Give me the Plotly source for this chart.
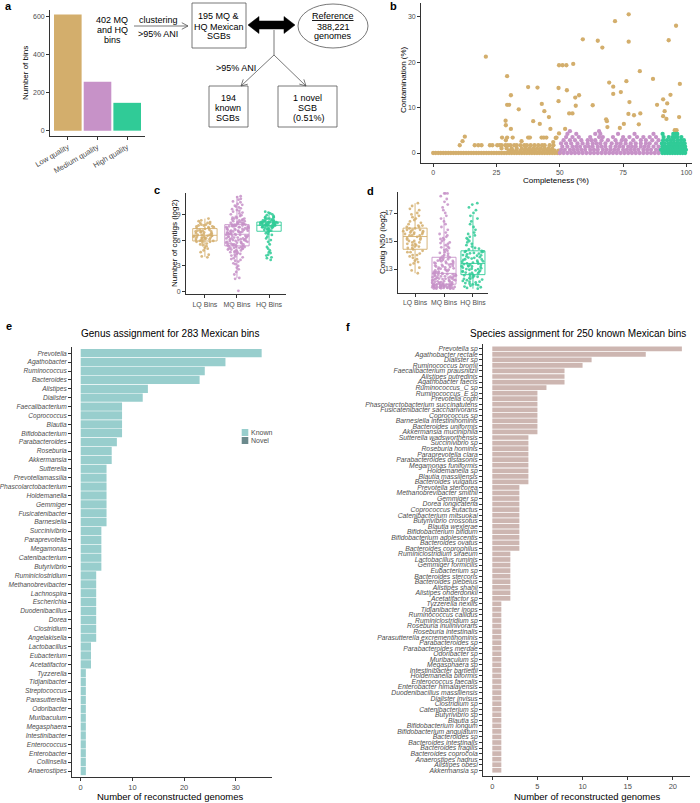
import math
import plotly.graph_objects as go

W, H = 700, 803
FONT = "Liberation Sans, Arial, Helvetica, sans-serif"
TAN = "#D3AE6C"; PURPLE = "#C792C8"; GREEN = "#30CB97"
KNOWN = "#98CECD"; NOVEL = "#6B8A8D"; SPEC = "#CDB6B1"
AXC = "#333333"; TXT = "#4D4D4D"; GREY = "#555555"

# ---------------- DATA ----------------
# a: quality of bins
quality_labels = ["Low quality", "Medium quality", "High quality"]
quality_counts = [609, 256, 146]

# b: completeness vs contamination (completeness, contamination)
lq_high_points = [
    (20.8, 21.2), (29.2, 16.9), (30.7, 12.7), (29.2, 10.6), (30.0, 10.6), (33.8, 9.6),
    (28.6, 7.1), (28.7, 6.1), (30.7, 5.3), (37.5, 14.5), (41.2, 14.4), (42.9, 10.8),
    (43.9, 9.2), (45.7, 7.9), (39.5, 7.0), (42.1, 6.4), (46.3, 5.3), (49.7, 19.3),
    (51.1, 19.3), (52.6, 19.3), (55.3, 19.6), (49.5, 14.3), (52.8, 13.8), (49.5, 11.4),
    (56.1, 12.2), (57.6, 12.7), (56.3, 10.4), (53.7, 8.7), (55.0, 8.7), (59.1, 25.0),
    (65.0, 24.7), (66.8, 23.2), (71.8, 29.0), (77.2, 30.5), (77.2, 24.5), (95.9, 28.0),
    (93.0, 24.8), (81.6, 18.0), (86.8, 16.3), (69.5, 15.5), (71.1, 14.6), (76.3, 15.8),
    (71.1, 13.0), (74.1, 13.4), (63.0, 10.5), (77.5, 11.2), (88.4, 10.6), (90.8, 11.8),
    (92.4, 10.9), (93.7, 12.8), (97.4, 15.2), (68.3, 7.4), (68.6, 7.0), (68.8, 5.7),
    (77.1, 8.6), (79.3, 8.3), (81.8, 8.7), (81.2, 6.3), (75.3, 6.4), (73.7, 5.5),
    (90.8, 8.1), (92.1, 7.5), (97.1, 7.9), (91.4, 9.2), (95.4, 5.0), (96.1, 5.0),
    (52.1, 5.3), (49.7, 4.3),
]
lq_low_points = [
    (10.5, 1.7), (11.6, 2.6), (12.5, 3.6), (16.4, 1.7), (17.8, 1.7), (19.1, 1.7),
    (22.4, 1.7), (23.4, 1.7), (25.3, 1.7), (26.3, 1.7), (27.0, 1.7), (27.2, 3.4),
    (29.2, 3.4), (31.4, 3.4), (37.5, 3.4), (38.2, 3.4), (42.8, 3.4), (43.7, 3.4),
    (44.7, 3.4), (48.7, 3.4), (28.7, 2.8), (34.9, 2.6), (47.4, 2.4), (48.4, 3.3),
]
lq_rows = {
    0.0: [0, 1, 2, 3, 4, 5, 6, 7, 8, 9, 10, 11, 12, 13, 14, 15, 16, 17, 18, 19, 20, 21,
          22, 23, 24, 25, 26, 27, 28, 29, 30, 31, 32, 33, 34, 35, 36, 37, 38, 39, 40, 41,
          42, 43, 44, 45, 46, 47, 48, 49, 50],
    0.5: [30, 31.5, 33, 34.5, 36, 37.5, 39, 40.5, 42, 43.5, 45, 46.5, 48, 49.5],
    1.0: [27, 29, 31, 33, 35, 36.5, 38, 39.5, 41, 42.5, 44, 45.5, 47],
    1.7: [28.5, 29.5, 30.5, 32, 33, 34.5, 36, 37, 38.5, 40, 41.5, 43, 44, 46, 47.5],
}
mq_rows = {
    0.0: [50, 51.5, 53, 54.5, 56, 57.5, 59, 60.5, 62, 63.5, 65, 66.5, 68, 69.5, 71, 72.5,
          74, 75.5, 77, 78.5, 80, 81.5, 83, 84.5, 86, 87.5, 89],
    0.7: [50.5, 52, 54, 55.5, 57, 58.5, 60, 62, 63.5, 65, 67, 68.5, 70, 71.5, 73, 75, 76.5,
          78, 79.5, 81, 83, 84.5, 86, 88, 89.5],
    1.4: [51, 53, 55, 56.5, 58, 60, 61.5, 63, 65, 66.5, 68, 70, 72, 73.5, 75, 77, 78.5, 80,
          82, 83.5, 85, 87, 89],
    2.1: [50.5, 52.5, 54.5, 57, 59, 61, 63, 64.5, 66, 68, 70.5, 72.5, 74, 76, 78, 80, 82,
          84, 85.5, 88],
    2.8: [51.5, 54, 56, 58.5, 61, 62.5, 64, 66.5, 69, 72, 74.5, 76, 79, 82, 84, 86.5, 89],
    3.5: [52.5, 55, 57.5, 62, 65.5, 67, 71, 75, 77.5, 80.5, 83, 85.5, 88],
    4.2: [53, 56.5, 64, 66, 73, 79.5, 87],
    4.8: [54, 65.5],
}
hq_rows = {
    0.0: [90.5, 91.5, 92.5, 93.5, 94.5, 95.5, 96.5, 97.5, 98.5, 99.5],
    0.7: [90, 91, 92, 93, 94, 95, 96, 97, 98, 99, 99.8],
    1.4: [90.5, 91.5, 92.5, 93.5, 94.5, 95.5, 96.5, 97.5, 98.5, 99.5],
    2.1: [90.3, 91.5, 93, 94, 95.2, 96, 97, 98.2, 99.3],
    2.8: [90.8, 92.3, 93.8, 95, 96.5, 97.8, 99],
    3.5: [91, 93, 94.5, 95.5, 96.5, 98],
    4.2: [90.6, 94.8, 95.8, 96.4],
}

# c/d: box groups
bin_groups = ["LQ Bins", "MQ Bins", "HQ Bins"]
contigs_q1 = [5.9, 5.33, 7.03]
contigs_med = [6.56, 6.68, 7.72]
contigs_q3 = [7.34, 7.8, 8.1]
contigs_lo = [4.05, 1.6, 5.45]
contigs_hi = [8.5, 11.1, 9.27]
contigs_lq = [4.0, 4.1, 4.3, 4.6, 4.8, 5.0, 5.1, 5.3, 5.4, 5.5, 5.6, 5.7, 5.8, 5.8, 5.9, 5.9, 5.9,
              6.0, 6.0, 6.1, 6.1, 6.2, 6.2, 6.2, 6.3, 6.3, 6.3, 6.4, 6.4, 6.4, 6.5, 6.5, 6.5, 6.5,
              6.6, 6.6, 6.6, 6.7, 6.7, 6.8, 6.8, 6.9, 6.9, 7.0, 7.0, 7.0, 7.1, 7.1, 7.2, 7.2, 7.3,
              7.4, 7.4, 7.5, 7.5, 7.6, 7.6, 7.7, 7.7, 7.8, 7.8, 7.9, 8.0, 8.0, 8.1, 8.2, 8.3, 8.5]
contigs_mq = [1.5, 1.6, 2.0, 2.3, 2.6, 2.8, 3.0, 3.2, 3.3, 3.5, 3.6, 3.7, 3.8, 3.9, 4.0, 4.1, 4.2,
              4.3, 4.4, 4.4, 4.5, 4.6, 4.6, 4.7, 4.7, 4.8, 4.8, 4.9, 4.9, 5.0, 5.0, 5.0, 5.1, 5.1,
              5.1, 5.2, 5.2, 5.2, 5.3, 5.3,
              5.4, 5.4, 5.4, 5.5, 5.5, 5.5, 5.6, 5.6, 5.6, 5.7, 5.7, 5.7, 5.8, 5.8, 5.8, 5.9, 5.9,
              5.9, 6.0, 6.0, 6.0, 6.1, 6.1, 6.1, 6.2, 6.2, 6.2, 6.3, 6.3, 6.3, 6.4, 6.4, 6.4, 6.5,
              6.5, 6.5, 6.6, 6.6, 6.6, 6.7,
              6.7, 6.7, 6.8, 6.8, 6.8, 6.9, 6.9, 6.9, 7.0, 7.0, 7.0, 7.0, 7.1, 7.1, 7.1, 7.2, 7.2,
              7.2, 7.3, 7.3, 7.3, 7.3, 7.4, 7.4, 7.4, 7.5, 7.5, 7.5, 7.5, 7.6, 7.6, 7.6, 7.6, 7.7,
              7.7, 7.7, 7.7, 7.8, 7.8, 7.8,
              7.9, 7.9, 7.9, 8.0, 8.0, 8.0, 8.1, 8.1, 8.2, 8.2, 8.3, 8.3, 8.4, 8.4, 8.5, 8.5, 8.6,
              8.6, 8.7, 8.8, 8.9, 9.0, 9.1, 9.2, 9.3, 9.4, 9.5, 9.6, 9.7, 9.8, 9.9, 10.0, 10.1,
              10.2, 10.4, 10.5, 10.7, 10.8, 11.0, 11.1, 0.1]
contigs_hq = [3.7, 3.9, 4.0, 4.2, 4.3, 4.5, 4.6, 4.8, 5.0, 5.2, 5.5, 5.8, 6.0, 6.2, 6.4, 6.6, 6.7,
              6.8, 6.9, 7.0,
              7.1, 7.1, 7.2, 7.2, 7.3, 7.3, 7.4, 7.4, 7.4, 7.5, 7.5, 7.5, 7.6, 7.6, 7.6, 7.7, 7.7,
              7.7, 7.7, 7.7,
              7.8, 7.8, 7.8, 7.8, 7.9, 7.9, 7.9, 7.9, 7.9, 8.0, 8.0, 8.0, 8.0, 8.0, 8.0, 8.1, 8.1,
              8.1, 8.1, 8.1,
              8.2, 8.2, 8.2, 8.3, 8.3, 8.3, 8.4, 8.4, 8.5, 8.5, 8.6, 8.6, 8.7, 8.7, 8.8, 8.9, 9.0,
              9.1, 9.2, 9.3]

n50_q1 = [14.41, 11.92, 12.6]
n50_med = [15.32, 12.69, 13.4]
n50_q3 = [15.92, 13.84, 14.3]
n50_lo = [12.7, 11.6, 11.6]
n50_hi = [17.7, 16.7, 16.85]
n50_lq = [12.7, 12.9, 13.1, 13.3, 13.4, 13.5, 13.6, 13.7, 13.8, 13.9, 14.0, 14.0, 14.1, 14.2, 14.2,
          14.3, 14.4, 14.5, 14.5, 14.6, 14.6, 14.7, 14.7, 14.8, 14.8, 14.9, 14.9, 15.0, 15.0, 15.1,
          15.1, 15.2, 15.2, 15.3, 15.4, 15.4, 15.4, 15.5, 15.5, 15.5, 15.6, 15.6, 15.6, 15.7, 15.7,
          15.7, 15.8, 15.8, 15.8, 15.9, 15.9, 16.0, 16.0, 16.1, 16.1, 16.2, 16.3, 16.4, 16.5, 16.6,
          16.7, 16.8, 16.9, 17.0, 17.2, 17.3, 17.5, 17.7]
n50_mq = [11.6, 11.6, 11.62, 11.65, 11.68, 11.7, 11.7, 11.72, 11.75, 11.78, 11.8, 11.8, 11.82,
          11.85, 11.88, 11.9, 11.9, 11.92, 11.6, 11.65, 11.7, 11.75, 11.8, 11.85, 11.9, 11.63,
          11.67, 11.73, 11.77, 11.83, 11.87, 11.91, 11.61, 11.69, 11.74, 11.79, 11.84, 11.89,
          11.66, 11.76,
          11.95, 12.0, 12.02, 12.05, 12.08, 12.1, 12.12, 12.15, 12.18, 12.2, 12.22, 12.25, 12.28,
          12.3, 12.32, 12.35, 12.38, 12.4, 12.42, 12.45, 12.48, 12.5, 12.52, 12.55, 12.58, 12.6,
          12.62, 12.65, 12.68, 11.98, 12.03, 12.13, 12.23, 12.33, 12.43, 12.53, 12.63, 12.07,
          12.27, 12.47,
          12.7, 12.75, 12.8, 12.85, 12.9, 12.95, 13.0, 13.05, 13.1, 13.15, 13.2, 13.25, 13.3,
          13.35, 13.4, 13.45, 13.5, 13.55, 13.6, 13.65, 13.7, 13.75, 13.8, 13.83, 12.72, 12.82,
          12.92, 13.02, 13.12, 13.22, 13.32, 13.42, 13.52, 13.62, 13.72, 12.78, 12.98, 13.18,
          13.38, 13.58,
          13.9, 14.0, 14.1, 14.2, 14.3, 14.4, 14.5, 14.6, 14.7, 14.8, 14.9, 15.0, 15.1, 15.2,
          15.3, 15.4, 15.5, 15.6, 15.8, 16.0, 16.2, 16.4, 16.6, 16.8, 17.0, 17.2, 17.4, 17.6,
          17.8, 18.0, 18.2, 18.4, 18.4, 18.4, 13.95, 14.15, 14.35, 14.55, 14.85, 15.15]
n50_hq = [11.6, 11.7, 11.75, 11.8, 11.85, 11.9, 11.95, 12.0, 12.05, 12.1, 12.15, 12.2, 12.25,
          12.3, 12.35, 12.4, 12.45, 12.5, 12.55, 12.6, 11.65, 11.9, 12.1, 12.3, 12.5,
          12.65, 12.7, 12.75, 12.8, 12.85, 12.9, 12.95, 13.0, 13.05, 13.1, 13.15, 13.2, 13.25,
          13.3, 13.35, 13.4, 12.72, 12.88, 13.02, 13.18, 13.32, 12.8, 13.0, 13.2, 13.38,
          13.45, 13.5, 13.55, 13.6, 13.65, 13.7, 13.75, 13.8, 13.85, 13.9, 13.95, 14.0, 14.05,
          14.1, 14.15, 14.2, 14.25, 14.3, 13.52, 13.68, 13.82, 13.98, 14.12, 14.22, 14.28,
          14.4, 14.5, 14.6, 14.7, 14.8, 14.9, 15.0, 15.1, 15.2, 15.3, 15.4, 15.5, 15.6, 15.8,
          16.0, 16.2, 16.4, 16.6, 16.8, 17.0, 17.2, 17.4, 17.6, 17.7, 14.45]

# e: genus assignment
genus_names = ["Prevotella", "Agathobacter", "Ruminococcus", "Bacteroides", "Alistipes",
               "Dialister", "Faecalibacterium", "Coprococcus", "Blautia", "Bifidobacterium",
               "Parabacteroides", "Roseburia", "Akkermansia", "Sutterella", "Prevotellamassilia",
               "Phascolarctobacterium", "Holdemanella", "Gemmiger", "Fusicatenibacter",
               "Barnesiella", "Succinivibrio", "Paraprevotella", "Megamonas", "Catenibacterium",
               "Butyrivibrio", "Ruminiclostridium", "Methanobrevibacter", "Lachnospira",
               "Escherichia", "Duodenibacillus", "Dorea", "Clostridium", "Angelakisella",
               "Lactobacillus", "Eubacterium", "Acetatifactor", "Tyzzerella", "Tidjanibacter",
               "Streptococcus", "Parasutterella", "Odoribacter", "Muribaculum", "Megasphaera",
               "Intestinibacter", "Enterococcus", "Enterobacter", "Collinsella", "Anaerostipes"]
genus_counts = [35, 28, 24, 23, 13, 12, 8, 8, 8, 8, 7, 6, 6, 5, 5, 5, 5, 5, 5, 5, 4, 4, 4, 4, 4,
                3, 3, 3, 3, 3, 3, 3, 3, 2, 2, 2, 1, 1, 1, 1, 1, 1, 1, 1, 1, 1, 1, 1]
genus_legend = ["Known", "Novel"]

# f: species assignment
species_names = ["Prevotella sp", "Agathobacter rectale", "Dialister sp", "Ruminococcus bromii",
                 "Faecalibacterium prausnitzii", "Alistipes putredinis", "Agathobacter faecis",
                 "Ruminococcus_C sp", "Ruminococcus_E sp", "Prevotella copri",
                 "Phascolarctobacterium succinatutens", "Fusicatenibacter saccharivorans",
                 "Coprococcus sp", "Barnesiella intestinihominis", "Bacteroides uniformis",
                 "Akkermansia muciniphila", "Sutterella wadsworthensis", "Succinivibrio sp",
                 "Roseburia hominis", "Paraprevotella clara", "Parabacteroides distasonis",
                 "Megamonas funiformis", "Holdemanella sp", "Blautia massiliensis",
                 "Bacteroides vulgatus", "Prevotella stercorea", "Methanobrevibacter smithii",
                 "Gemmiger sp", "Dorea longicatena", "Coprococcus eutactus",
                 "Catenibacterium mitsuokai", "Butyrivibrio crossotus", "Blautia wexlerae",
                 "Bifidobacterium bifidum", "Bifidobacterium adolescentis", "Bacteroides ovatus",
                 "Bacteroides coprophilus", "Ruminiclostridium siraeum", "Lactobacillus ruminis",
                 "Gemmiger formicilis", "Eubacterium sp", "Bacteroides stercoris",
                 "Bacteroides plebeius", "Alistipes shahii", "Alistipes onderdonkii",
                 "Acetatifactor sp", "Tyzzerella nexilis", "Tidjanibacter inops",
                 "Ruminococcus callidus", "Ruminiclostridium sp", "Roseburia inulinivorans",
                 "Roseburia intestinalis", "Parasutterella excrementihominis", "Parabacteroides sp",
                 "Parabacteroides merdae", "Odoribacter sp", "Muribaculum sp", "Megasphaera sp",
                 "Intestinibacter bartlettii", "Holdemanella biformis", "Enterococcus faecalis",
                 "Enterobacter himalayensis", "Duodenibacillus massiliensis", "Dialister invisus",
                 "Clostridium sp", "Catenibacterium sp", "Butyrivibrio sp", "Blautia sp",
                 "Bifidobacterium longum", "Bifidobacterium angulatum", "Bacteroides sp",
                 "Bacteroides intestinalis", "Bacteroides fragilis", "Bacteroides coprocola",
                 "Anaerostipes hadrus", "Alistipes obesi", "Akkermansia sp"]
species_counts = [21, 17, 11, 10, 8, 8, 8, 6, 5, 5, 5, 5, 5, 5, 5, 5, 4, 4, 4, 4, 4, 4, 4, 4, 4,
                  3, 3, 3, 3, 3, 3, 3, 3, 3, 3, 3, 3, 2, 2, 2, 2, 2, 2, 2, 2, 2,
                  1, 1, 1, 1, 1, 1, 1, 1, 1, 1, 1, 1, 1, 1, 1, 1, 1, 1, 1, 1, 1, 1, 1, 1, 1,
                  1, 1, 1, 1, 1, 1]


# ---------------- helpers ----------------
def px(x):
    return x / W


def py(y):
    return 1 - y / H


def flat(rows):
    xs, ys = [], []
    for cont, comps in rows.items():
        for c in comps:
            xs.append(c)
            ys.append(cont)
    return xs, ys


def txt(x, y, s, size=9, color="black", angle=0, xanchor="center", yanchor="middle", bold=False):
    if bold:
        s = "<b>" + s + "</b>"
    return dict(x=px(x), y=py(y), xref="paper", yref="paper", text=s, showarrow=False,
                font=dict(size=size, color=color, family=FONT), textangle=angle,
                xanchor=xanchor, yanchor=yanchor, borderpad=0)


def seg(x0, y0, x1, y1, color=GREY, w=0.8):
    return dict(type="line", xref="paper", yref="paper", x0=px(x0), y0=py(y0), x1=px(x1),
                y1=py(y1), line=dict(color=color, width=w))


def arrow(x0, y0, x1, y1, L=7, a=28):
    out = [seg(x0, y0, x1, y1)]
    ang = math.atan2(y1 - y0, x1 - x0)
    for s in (1, -1):
        t = ang + math.pi + s * math.radians(a)
        out.append(seg(x1, y1, x1 + L * math.cos(t), y1 + L * math.sin(t)))
    return out


def rect(x0, y0, x1, y1, color=GREY, fill="rgba(0,0,0,0)", w=0.8):
    return dict(type="rect", xref="paper", yref="paper", x0=px(x0), y0=py(y1), x1=px(x1),
                y1=py(y0), line=dict(color=color, width=w), fillcolor=fill)


# ---------------- figure ----------------
fig = go.Figure()

# a
fig.add_trace(go.Bar(x=quality_labels, y=quality_counts, width=0.93,
                     marker=dict(color=[TAN, PURPLE, GREEN], line=dict(width=0)),
                     xaxis="x", yaxis="y", showlegend=False))

# b
lx, ly = flat(lq_rows)
lx += [p[0] for p in lq_low_points + lq_high_points]
ly += [p[1] for p in lq_low_points + lq_high_points]
mx, my = flat(mq_rows)
hx, hy = flat(hq_rows)
for xs, ys, col in [(lx, ly, TAN), (mx, my, PURPLE), (hx, hy, GREEN)]:
    fig.add_trace(go.Scatter(x=xs, y=ys, mode="markers", marker=dict(color=col, size=4.3),
                             xaxis="x2", yaxis="y2", showlegend=False))

# c, d
cols = [TAN, PURPLE, GREEN]
for axn, q1, med, q3, lo, hi, vals, bw in [
    ("3", contigs_q1, contigs_med, contigs_q3, contigs_lo, contigs_hi,
     [contigs_lq, contigs_mq, contigs_hq], 0.76),
    ("4", n50_q1, n50_med, n50_q3, n50_lo, n50_hi, [n50_lq, n50_mq, n50_hq], 0.83),
]:
    for i, g in enumerate(bin_groups):
        fig.add_trace(go.Box(x=[g], q1=[q1[i]], median=[med[i]], q3=[q3[i]],
                             lowerfence=[lo[i]], upperfence=[hi[i]], boxpoints=False,
                             width=bw, whiskerwidth=0, line=dict(color=cols[i], width=0.9),
                             fillcolor="rgba(255,255,255,0)", xaxis="x" + axn, yaxis="y" + axn,
                             showlegend=False))
        fig.add_trace(go.Box(x=[g] * len(vals[i]), y=vals[i], boxpoints="all", jitter=1,
                             pointpos=0, width=bw, line=dict(color="rgba(0,0,0,0)", width=0),
                             fillcolor="rgba(0,0,0,0)",
                             marker=dict(color=cols[i], size=2.8, opacity=0.85),
                             xaxis="x" + axn, yaxis="y" + axn, showlegend=False))

# e
fig.add_trace(go.Bar(x=genus_counts, y=genus_names, orientation="h", width=0.93,
                     marker=dict(color=KNOWN, line=dict(width=0)), xaxis="x5", yaxis="y5",
                     showlegend=False))
# f
fig.add_trace(go.Bar(x=species_counts, y=species_names, orientation="h", width=0.85,
                     marker=dict(color=SPEC, line=dict(width=0)), xaxis="x6", yaxis="y6",
                     showlegend=False))

ax = dict(showline=True, linecolor=AXC, linewidth=0.8, ticks="outside", ticklen=3, tickwidth=0.8,
          tickcolor=AXC, showgrid=False, zeroline=False, tickfont=dict(size=7, color=TXT),
          fixedrange=True)


def A(**kw):
    d = dict(ax)
    d.update(kw)
    return d


fig.update_layout(
    template="none",
    width=W, height=H, margin=dict(l=0, r=0, t=0, b=0, pad=0), autosize=False,
    paper_bgcolor="white", plot_bgcolor="white",
    font=dict(family=FONT, size=7, color=TXT),
    showlegend=False, boxmode="overlay",
    xaxis=A(domain=[px(50), px(145)], range=[-0.6, 2.6], anchor="y", tickangle=-30,
            tickfont=dict(size=7.5, color=TXT)),
    yaxis=A(domain=[py(136), py(10)], range=[-28, 633], anchor="x", tickvals=[0, 200, 400, 600],
            tickfont=dict(size=7, color=TXT)),
    xaxis2=A(domain=[px(421), px(692)], range=[-4.8, 102.2], anchor="y2",
             tickvals=[0, 25, 50, 75, 100]),
    yaxis2=A(domain=[py(163), py(3)], range=[-2.2, 33], anchor="x2", tickvals=[0, 10, 20, 30]),
    xaxis3=A(domain=[px(186), px(286)], range=[-0.59, 2.53], anchor="y3", type="category",
             categoryorder="array", categoryarray=bin_groups, tickangle=0,
             tickmode="array", tickvals=bin_groups, ticktext=bin_groups),
    yaxis3=A(domain=[py(294.3), py(192.8)], range=[-0.3, 11.5], anchor="x3", tickvals=[0, 3, 6, 9]),
    xaxis4=A(domain=[px(398), px(488)], range=[-0.59, 2.52], anchor="y4", type="category",
             categoryorder="array", categoryarray=bin_groups, tickangle=0,
             tickmode="array", tickvals=bin_groups, ticktext=bin_groups,
             tickfont=dict(size=6.8, color=TXT)),
    yaxis4=A(domain=[py(292.7), py(192)], range=[11.31, 18.5], anchor="x4",
             tickvals=[13, 15, 17]),
    xaxis5=A(domain=[px(72), px(272)], range=[-1.68, 37.0], anchor="y5", tickvals=[0, 10, 20, 30],
             tickfont=dict(size=7.5, color=TXT)),
    yaxis5=A(domain=[py(777), py(347)], range=[47.67, -0.70], anchor="x5", type="category",
             categoryorder="array", categoryarray=genus_names,
             tickmode="array", tickvals=genus_names, ticktext=genus_names,
             tickfont=dict(size=6.6, color=TXT, style="italic")),
    xaxis6=A(domain=[px(483), px(690)], range=[-1.03, 21.9], anchor="y6",
             tickvals=[0, 5, 10, 15, 20], tickfont=dict(size=7.5, color=TXT)),
    yaxis6=A(domain=[py(776), py(344)], range=[77.04, -0.86], anchor="x6", type="category",
             categoryorder="array", categoryarray=species_names,
             tickmode="array", tickvals=species_names, ticktext=species_names,
             tickfont=dict(size=6.8, color=TXT, style="italic")),
)

ann = []
# panel letters
for x, y, s in [(8, 6, "a"), (393, 6, "b"), (157, 190, "c"), (370, 191, "d"), (9, 326, "e"),
                (348, 327, "f")]:
    ann.append(txt(x, y, s, size=11, bold=True))
# axis titles
ann.append(txt(25, 73, "Number of bins", size=8, color="black", angle=-90))
ann.append(txt(404, 80, "Contamination (%)", size=8, color="black", angle=-90))
ann.append(txt(556, 180, "Completeness (%)", size=8, color="black"))
ann.append(txt(174, 243, "Number of contigs (log2)", size=8, color="black", angle=-90))
ann.append(txt(382, 243, "Contig N50 (log2)", size=8, color="black", angle=-90))
ann.append(txt(170, 333, "Genus assignment for 283 Mexican bins", size=10, color="black"))
ann.append(txt(578, 333, "Species assignment for 250 known Mexican bins", size=10, color="black"))
ann.append(txt(170, 796.5, "Number of reconstructed genomes", size=9.5, color="black"))
ann.append(txt(587, 796.5, "Number of reconstructed genomes", size=9.5, color="black"))
# diagram text
for x, y, s in [(112, 20, "402 MQ"), (112, 30, "and HQ"), (112, 40, "bins"),
                (158, 20, "clustering"), (158, 34, "&gt;95% ANI"),
                (219, 16, "195 MQ &amp;"), (219, 26.5, "HQ Mexican"), (219, 36.5, "SGBs"),
                (333, 16, "<u>Reference</u>"), (333, 26.5, "388,221"), (333, 36.5, "genomes"),
                (236, 68, "&gt;95% ANI"),
                (228.5, 98, "194"), (228.5, 108, "known"), (228.5, 118, "SGBs"),
                (307.5, 98, "1 novel"), (307.5, 108, "SGB"), (309, 118, "(0.51%)")]:
    ann.append(txt(x, y, s, size=9, color="black"))
# legend text e
ann.append(txt(250, 432.5, genus_legend[0], size=7, color=TXT, xanchor="left"))
ann.append(txt(250, 440.5, genus_legend[1], size=7, color=TXT, xanchor="left"))

shapes = []
shapes.append(rect(192, 3, 246, 48))
shapes.append(dict(type="circle", xref="paper", yref="paper", x0=px(298), x1=px(368),
                   y0=py(48), y1=py(4), line=dict(color=GREY, width=0.8)))
shapes.append(rect(209, 86, 248, 127))
shapes.append(rect(278, 86, 337, 127))
shapes += arrow(134, 26, 188, 26)
shapes.append(seg(274, 30, 274, 55))
shapes += arrow(274, 55, 241, 86)
shapes += arrow(274, 55, 306, 86)
# black double arrow
pts = [(248, 25), (259, 16.5), (259, 21), (284, 21), (284, 16.5), (295, 25), (284, 33.5),
       (284, 29), (259, 29), (259, 33.5)]
path = "M " + " L ".join(f"{px(x):.5f},{py(y):.5f}" for x, y in pts) + " Z"
shapes.append(dict(type="path", xref="paper", yref="paper", path=path, fillcolor="black",
                   line=dict(color="black", width=0.5)))
# legend keys e
shapes.append(rect(241.7, 429, 248.3, 436, color=KNOWN, fill=KNOWN, w=0))
shapes.append(rect(241.7, 437, 248.3, 444, color=NOVEL, fill=NOVEL, w=0))

fig.update_layout(annotations=ann, shapes=shapes)

fig.write_html("out.html", config={"displayModeBar": False},
               post_script="document.body.style.margin='0';")
